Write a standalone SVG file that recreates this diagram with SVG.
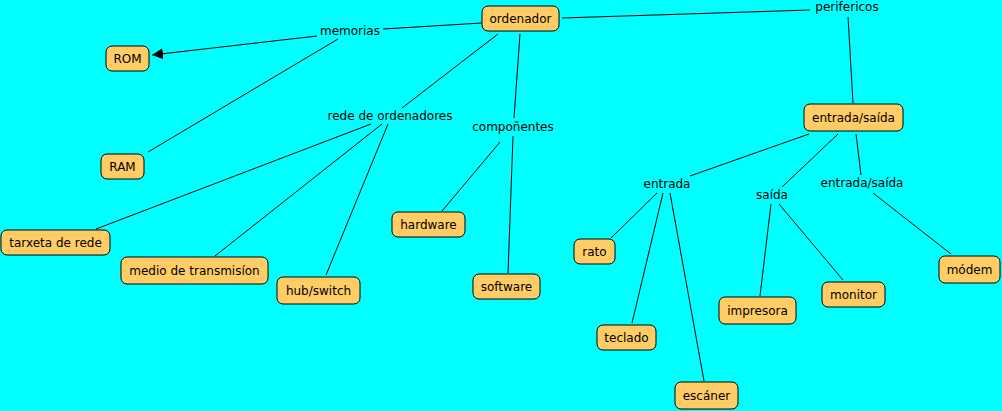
<svg xmlns="http://www.w3.org/2000/svg" width="1002" height="411" viewBox="0 0 1002 411">
<defs>
<style>
.n rect{fill:#ffcc66;stroke:#000;stroke-width:1}
text{font-family:"DejaVu Sans",Verdana,sans-serif;font-size:12px;fill:#000;text-anchor:middle;dominant-baseline:central}
.c line{stroke:#000;stroke-width:1}
</style>
<marker id="ah" viewBox="0 0 10 10" refX="10" refY="5" markerWidth="11" markerHeight="11" markerUnits="userSpaceOnUse" orient="auto"><path d="M0,0L10,5L0,10z" fill="#000"/></marker>
</defs>
<rect width="1002" height="411" fill="#00ffff"/>
<g class="c">
<line x1="482" y1="23" x2="383" y2="29"/>
<line x1="317" y1="36" x2="152" y2="55" marker-end="url(#ah)"/>
<line x1="338" y1="39" x2="148" y2="152"/>
<line x1="498" y1="34" x2="402" y2="108"/>
<line x1="371" y1="124" x2="96" y2="229"/>
<line x1="382" y1="124" x2="215" y2="256"/>
<line x1="388" y1="124" x2="326" y2="275"/>
<line x1="520" y1="34" x2="514" y2="118"/>
<line x1="500" y1="142" x2="442" y2="211"/>
<line x1="513" y1="136" x2="508" y2="273"/>
<line x1="562" y1="18" x2="810" y2="10"/>
<line x1="848" y1="17" x2="853" y2="103"/>
<line x1="809" y1="134" x2="690" y2="176"/>
<line x1="838" y1="134" x2="782" y2="187"/>
<line x1="856" y1="134" x2="861" y2="175"/>
<line x1="657" y1="193" x2="611" y2="238"/>
<line x1="663" y1="193" x2="632" y2="323"/>
<line x1="670" y1="193" x2="704" y2="381"/>
<line x1="771" y1="204" x2="760" y2="296"/>
<line x1="779" y1="204" x2="843" y2="280"/>
<line x1="873" y1="193" x2="951" y2="254"/>
</g>
<g id="labels">
<text x="350" y="31">memorias</text>
<text x="847" y="7">perifericos</text>
<text x="390" y="116">rede de ordenadores</text>
<text x="513" y="127">compoñentes</text>
<text x="667" y="184">entrada</text>
<text x="772" y="195">saída</text>
<text x="862" y="183">entrada/saída</text>
</g>
<g id="ordenador" class="n"><rect x="482" y="6" width="77" height="25" rx="6"/><text x="520.5" y="18.5">ordenador</text></g>
<g id="rom" class="n"><rect x="106" y="46" width="43" height="25" rx="6"/><text x="127.5" y="58.5">ROM</text></g>
<g id="ram" class="n"><rect x="101" y="154" width="43" height="25" rx="6"/><text x="122.5" y="166.5">RAM</text></g>
<g id="tarxeta" class="n"><rect x="1" y="230" width="109" height="25" rx="6"/><text x="55.5" y="242.5">tarxeta de rede</text></g>
<g id="medio" class="n"><rect x="121" y="257" width="147" height="27" rx="6"/><text x="194.5" y="270.5">medio de transmisíon</text></g>
<g id="hub" class="n"><rect x="277" y="277" width="83" height="27" rx="6"/><text x="318.5" y="290.5">hub/switch</text></g>
<g id="hardware" class="n"><rect x="392" y="212" width="73" height="25" rx="6"/><text x="428.5" y="224.5">hardware</text></g>
<g id="software" class="n"><rect x="473" y="274" width="67" height="25" rx="6"/><text x="506.5" y="286.5">software</text></g>
<g id="es" class="n"><rect x="804" y="104" width="99" height="27" rx="6"/><text x="853.5" y="117.5">entrada/saída</text></g>
<g id="rato" class="n"><rect x="574" y="239" width="41" height="25" rx="6"/><text x="594.5" y="251.5">rato</text></g>
<g id="teclado" class="n"><rect x="597" y="325" width="59" height="25" rx="6"/><text x="626.5" y="337.5">teclado</text></g>
<g id="escaner" class="n"><rect x="675" y="382" width="63" height="27" rx="6"/><text x="706.5" y="395.5">escáner</text></g>
<g id="impresora" class="n"><rect x="719" y="297" width="77" height="27" rx="6"/><text x="757.5" y="310.5">impresora</text></g>
<g id="monitor" class="n"><rect x="822" y="282" width="63" height="25" rx="6"/><text x="853.5" y="294.5">monitor</text></g>
<g id="modem" class="n"><rect x="939" y="256" width="61" height="27" rx="6"/><text x="969.5" y="269.5">módem</text></g>
</svg>
